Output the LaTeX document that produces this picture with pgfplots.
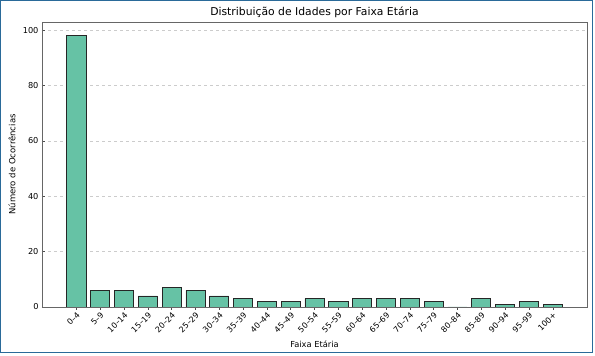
\documentclass[border=0pt]{standalone}
\usepackage{pgfplots}
\pgfplotsset{compat=1.18}
\usepackage{fontspec}
\setmainfont{DejaVu Sans}
\definecolor{barfill}{HTML}{66C2A5}
\definecolor{frameblue}{HTML}{2A6A99}
\begin{document}
\begin{tikzpicture}[x=1pt,y=1pt]
\useasboundingbox (-42pt,-49pt) rectangle (553pt,307pt);
\begin{axis}[
  at={(0,0)}, anchor=south west,
  scale only axis,
  width=545pt, height=285pt,
  xmin=-1.44, xmax=21.44,
  ymin=0, ymax=102.9,
  ybar, bar width=0.8,
  xtick=data,
  xticklabels={0–4,5–9,10–14,15–19,20–24,25–29,30–34,35–39,40–44,45–49,50–54,55–59,60–64,65–69,70–74,75–79,80–84,85–89,90–94,95–99,100+},
  x tick label style={rotate=45, anchor=north east, font=\fontsize{8}{9}\selectfont, inner sep=1pt},
  ytick={0,20,40,60,80,100},
  y tick label style={font=\fontsize{8.2}{9}\selectfont},
  /pgf/number format/assume math mode=true,
  tick style={black!70, thin},
  major tick length=3pt,
  tick pos=left,
  ymajorgrids,
  grid style={dashed, gray!40, line width=0.4pt},
  axis line style={black!60, line width=0.6pt},
  title={Distribuição de Idades por Faixa Etária},
  every axis title/.style={font=\fontsize{10.8}{12}\selectfont, at={(axis description cs:0.5,1)}, anchor=center, yshift=10pt},
  xlabel={Faixa Etária},
  xlabel style={font=\fontsize{8.3}{9}\selectfont, at={([yshift=-37pt]axis description cs:0.5,0)}, anchor=center},
  ylabel={Número de Ocorrências},
  ylabel style={font=\fontsize{8.5}{9}\selectfont, at={([xshift=-30pt]axis description cs:0,0.5)}, anchor=center, rotate=0},
]
\addplot[fill=barfill, draw=black!85, line width=0.6pt, bar shift=0pt] coordinates {
(0,98) (1,6) (2,6) (3,4) (4,7) (5,6) (6,4) (7,3) (8,2) (9,2) (10,3) (11,2) (12,3) (13,3) (14,3) (15,2) (16,0) (17,3) (18,1) (19,2) (20,1)
};
\end{axis}
\draw[frameblue, line width=1pt] (-41pt,-46pt) rectangle (550pt,306pt);
\end{tikzpicture}
\end{document}
